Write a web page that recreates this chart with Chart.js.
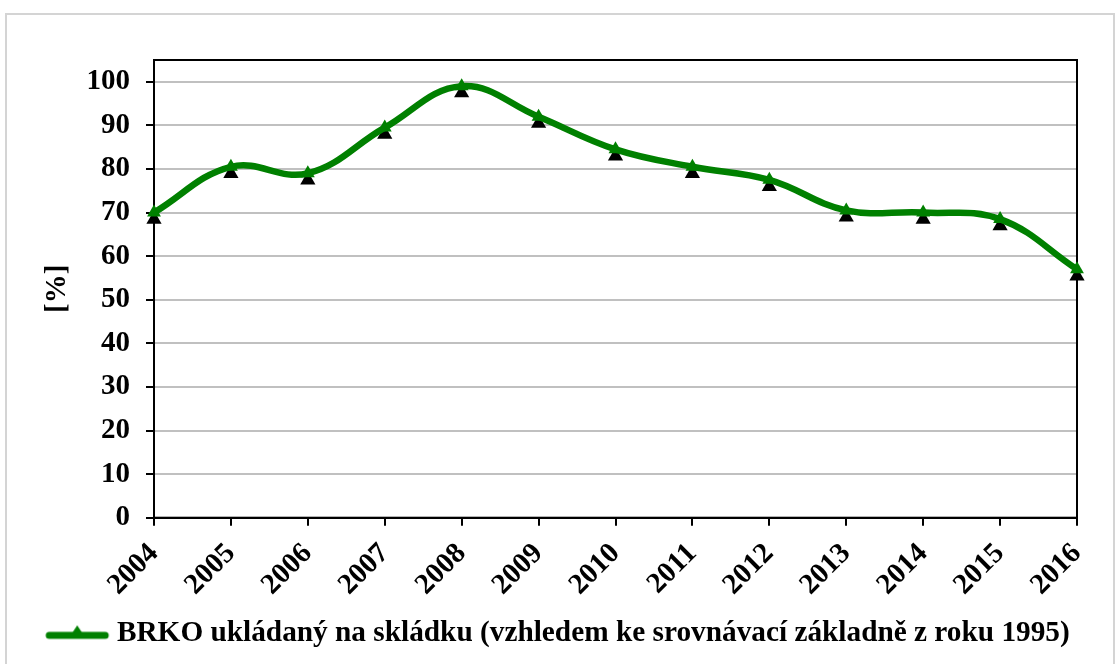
<!DOCTYPE html>
<html lang="cs">
<head>
  <meta charset="UTF-8" />
  <title>BRKO ukládaný na skládku</title>
  <script src="https://cdn.jsdelivr.net/npm/chart.js"></script>
  <style>
    body {
      margin: 0;
      background: #fff;
    }
    #ramecek {
      position: absolute;
      left: 5px;
      top: 13px;
      width: 1106px;
      height: 700px;
      border: 2px solid #d4d4d4;
    }
    #graf-box {
      position: absolute;
      left: 0;
      top: 0;
      width: 1118px;
      height: 664px;
    }
  </style>
</head>
<body>
  <div id="ramecek"></div>
  <div id="graf-box">
    <canvas id="graf" width="1118" height="664"></canvas>
  </div>

  <script>
    const roky = ["2004", "2005", "2006", "2007", "2008", "2009", "2010",
                  "2011", "2012", "2013", "2014", "2015", "2016"];
    const podil = [70, 80.5, 79, 89.5, 99, 92, 84.5, 80.5, 77.5, 70.5, 70, 68.5, 57];
    const yTicky = [0, 10, 20, 30, 40, 50, 60, 70, 80, 90, 100];
    const nazevRady = "BRKO ukládaný na skládku (vzhledem ke srovnávací základně z roku 1995)";

    const zelena = "#008000";
    const pismo = "'Liberation Serif', 'Times New Roman', serif";

    // znacka do legendy: cara s trojuhelnikem (sirsi nez box, presahuje do mezery)
    function legendaZnacka() {
      const c = document.createElement("canvas");
      c.width = 74; c.height = 22;
      const g = c.getContext("2d");
      g.strokeStyle = zelena;
      g.lineWidth = 7;
      g.lineCap = "round";
      g.beginPath();
      g.moveTo(11, 13); g.lineTo(67, 13);
      g.stroke();
      g.fillStyle = zelena;
      g.beginPath();
      g.moveTo(39, 3); g.lineTo(47, 15); g.lineTo(31, 15);
      g.closePath();
      g.fill();
      return c;
    }

    function trojuhelnik(ctx, x, y, r) {
      ctx.beginPath();
      ctx.moveTo(x, y - r);
      ctx.lineTo(x + r * 0.95, y + r * 0.65);
      ctx.lineTo(x - r * 0.95, y + r * 0.65);
      ctx.closePath();
      ctx.fill();
    }

    // ramecek plochy grafu + cerne stiny znacek
    const ramecekPlochy = {
      id: "ramecekPlochy",
      beforeDatasetsDraw(chart) {
        const { ctx, chartArea: a } = chart;
        ctx.save();
        ctx.strokeStyle = "#000";
        ctx.lineWidth = 2;
        ctx.strokeRect(a.left, a.top, a.right - a.left, a.bottom - a.top);
        ctx.fillStyle = "#000";
        chart.getDatasetMeta(0).data.forEach(p => {
          trojuhelnik(ctx, p.x, p.y + 6, 8);
        });
        ctx.restore();
      }
    };

    const ctx = document.getElementById("graf").getContext("2d");
    new Chart(ctx, {
      type: "line",
      data: {
        labels: roky,
        datasets: [{
          label: nazevRady,
          data: podil,
          borderColor: zelena,
          backgroundColor: zelena,
          borderWidth: 6.5,
          tension: 0.4,
          pointStyle: "triangle",
          pointRadius: 8,
          pointBorderWidth: 0,
          pointBackgroundColor: zelena,
          fill: false
        }]
      },
      options: {
        responsive: false,
        animation: false,
        layout: {
          padding: { top: 60, right: 0, left: 0, bottom: 6 }
        },
        plugins: {
          tooltip: { enabled: false },
          legend: {
            position: "bottom",
            labels: {
              color: "#000",
              font: { family: pismo, size: 29.3, weight: "bold" },
              usePointStyle: true,
              pointStyleWidth: 54,
              padding: 10,
              generateLabels: (chart) => [{
                text: nazevRady,
                pointStyle: legendaZnacka(),
                fillStyle: zelena,
                strokeStyle: zelena,
                lineWidth: 0,
                datasetIndex: 0
              }]
            }
          }
        },
        scales: {
          x: {
            offset: false,
            afterFit: (s) => { s.height = 91; },
            grid: {
              drawOnChartArea: false,
              color: "#000",
              tickColor: "#000",
              tickLength: 8,
              lineWidth: 2
            },
            border: { color: "#000", width: 2 },
            ticks: {
              color: "#000",
              minRotation: 45,
              maxRotation: 45,
              padding: 11,
              font: { family: pismo, size: 29, weight: "bold" }
            }
          },
          y: {
            min: 0,
            max: 105,
            afterFit: (s) => { s.width = 154; },
            afterBuildTicks: (s) => { s.ticks = yTicky.map(v => ({ value: v })); },
            grid: {
              color: "#c0c0c0",
              lineWidth: 2,
              tickColor: "#000",
              tickLength: 8
            },
            border: { color: "#000", width: 2 },
            ticks: {
              color: "#000",
              padding: 16,
              font: { family: pismo, size: 29, weight: "bold" }
            },
            title: {
              display: true,
              text: "[%]",
              color: "#000",
              padding: { top: 40, bottom: 0 },
              font: { family: pismo, size: 29, weight: "bold" }
            }
          },
          // prazdna osa vpravo jen kvuli mezere
          mezera: {
            position: "right",
            afterFit: (s) => { s.width = 41; },
            grid: { display: false },
            border: { display: false },
            ticks: { display: false }
          }
        }
      },
      plugins: [ramecekPlochy]
    });
  </script>
</body>
</html>
